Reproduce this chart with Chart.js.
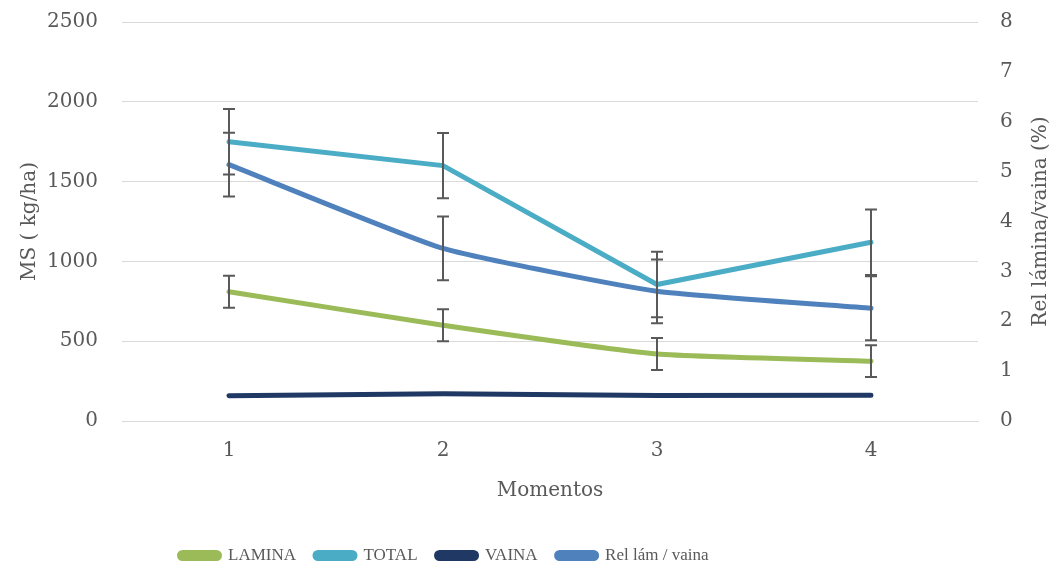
<!DOCTYPE html>
<html>
<head>
<meta charset="utf-8">
<script src="https://cdn.jsdelivr.net/npm/chart.js@4"></script>
<style>
    html, body { margin: 0; padding: 0; background: #fff; }
    #wrap { width: 1056px; height: 574px; position: relative; }
</style>
</head>
<body>
<div id="wrap"><canvas id="chart"></canvas></div>
<script>
// data
const momentos = ['1', '2', '3', '4'];
const lamina = [810, 600, 420, 375];
const laminaErr = [100, 100, 100, 100];
const total = [1750, 1600, 855, 1120];
const totalErr = [205, 205, 205, 205];
const vaina = [158, 170, 160, 162];
const relLamVaina = [5.14, 3.46, 2.6, 2.26];
const relErr = [0.64, 0.64, 0.64, 0.64];

const leftTicks = [0, 500, 1000, 1500, 2000, 2500];
const rightTicks = [0, 1, 2, 3, 4, 5, 6, 7, 8];

const FONT = '"DejaVu Serif", "Liberation Serif", serif';
const TEXT = '#595959';

// Excel-style error bars, drawn on top of the lines
const errorBars = {
    id: 'errorBars',
    afterDatasetsDraw(chart) {
        const ctx = chart.ctx;
        ctx.save();
        ctx.strokeStyle = '#595959';
        ctx.lineWidth = 2;
        chart.data.datasets.forEach((ds, i) => {
            if (!ds.errors) return;
            const meta = chart.getDatasetMeta(i);
            const yScale = chart.scales[ds.yAxisID];
            meta.data.forEach((pt, j) => {
                const v = ds.data[j], e = ds.errors[j];
                const y1 = yScale.getPixelForValue(v + e);
                const y2 = yScale.getPixelForValue(v - e);
                const x = pt.x;
                ctx.beginPath();
                ctx.moveTo(x, y1); ctx.lineTo(x, y2);
                ctx.moveTo(x - 6, y1); ctx.lineTo(x + 6, y1);
                ctx.moveTo(x - 6, y2); ctx.lineTo(x + 6, y2);
                ctx.stroke();
            });
        });
        ctx.restore();
    }
};

// axis titles, both read bottom-to-top like the original
const axisTitles = {
    id: 'axisTitles',
    afterLayout(chart) {
        // the original legend sits left of centre
        const lg = chart.legend;
        if (lg) { lg.left = 0; lg.right = 888; lg.width = 888; }
    },
    afterDraw(chart) {
        const ctx = chart.ctx;
        const a = chart.chartArea;
        const cy = (a.top + a.bottom) / 2;
        ctx.save();
        ctx.fillStyle = TEXT;
        ctx.font = '20px ' + FONT;
        ctx.textAlign = 'center';
        ctx.textBaseline = 'middle';
        [[30, 'MS ( kg/ha)'], [1041, 'Rel lámina/vaina (%)']].forEach(([x, t]) => {
            ctx.save();
            ctx.translate(x, cy);
            ctx.rotate(-Math.PI / 2);
            ctx.fillText(t, 0, 0);
            ctx.restore();
        });
        ctx.restore();
    }
};

const line = (label, data, color, axis, extra) => Object.assign({
    label, data,
    borderColor: color,
    backgroundColor: color,
    borderWidth: 5,
    pointRadius: 0,
    borderCapStyle: 'round',
    borderJoinStyle: 'round',
    fill: false,
    yAxisID: axis
}, extra || {});

const plain = v => String(v);

// fixed axis sizes so the plot area lands where the original has it
const fitY = w => s => { s.width = w; s.paddingTop = 0; s.paddingBottom = 0; };

new Chart(document.getElementById('chart'), {
    type: 'line',
    data: {
        labels: momentos,
        datasets: [
            line('LAMINA', lamina, '#9BBB59', 'y', { errors: laminaErr, tension: 0.15 }),
            line('TOTAL', total, '#4BACC6', 'y', { errors: totalErr }),
            line('VAINA', vaina, '#1F3864', 'y'),
            line('Rel lám / vaina', relLamVaina, '#4F81BD', 'y2', { errors: relErr, tension: 0.15 })
        ]
    },
    options: {
        responsive: true,
        maintainAspectRatio: false,
        animation: false,
        layout: { padding: { top: 22, left: 0, right: 0, bottom: 0 } },
        plugins: {
            tooltip: { enabled: false },
            legend: {
                position: 'bottom',
                labels: {
                    color: TEXT,
                    font: { family: '"Liberation Serif", serif', size: 17 },
                    boxWidth: 40,
                    boxHeight: 6,
                    useBorderRadius: true,
                    borderRadius: 3,
                    padding: 19
                }
            }
        },
        scales: {
            x: {
                offset: true,
                grid: { display: false, drawTicks: false },
                border: { color: '#d9d9d9', width: 1 },
                ticks: { color: TEXT, font: { family: FONT, size: 20 }, padding: 18 },
                title: { display: true, text: 'Momentos', color: TEXT, font: { family: FONT, size: 20 }, padding: { top: 8, bottom: 25 } },
                afterFit(s) { s.height = 107; }
            },
            y: {
                position: 'left',
                min: 0, max: 2500,
                afterBuildTicks(s) { s.ticks = leftTicks.map(v => ({ value: v })); },
                grid: { color: '#d9d9d9', drawTicks: false },
                border: { display: false },
                ticks: { color: TEXT, font: { family: FONT, size: 20 }, padding: 24, callback: plain },
                afterFit: fitY(122)
            },
            y2: {
                position: 'right',
                min: 0, max: 8,
                afterBuildTicks(s) { s.ticks = rightTicks.map(v => ({ value: v })); },
                grid: { display: false, drawTicks: false },
                border: { display: false },
                ticks: { color: TEXT, font: { family: FONT, size: 20 }, padding: 22, callback: plain },
                afterFit: fitY(78)
            }
        }
    },
    plugins: [errorBars, axisTitles]
});
</script>
</body>
</html>
